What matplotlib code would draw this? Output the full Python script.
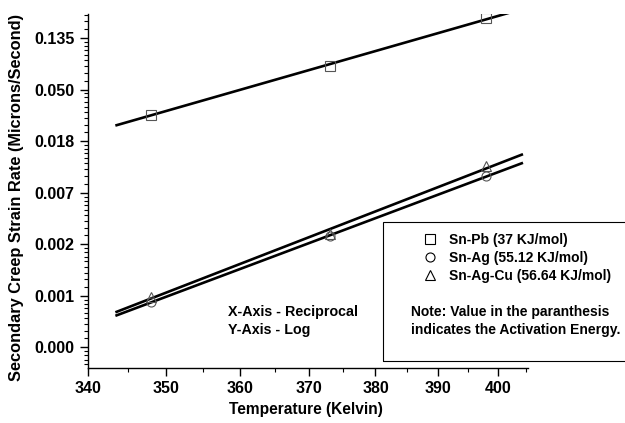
import numpy as np
import matplotlib
matplotlib.use("Agg")
import matplotlib.pyplot as plt
from matplotlib.ticker import FixedLocator, FuncFormatter
from matplotlib.lines import Line2D
from matplotlib.patches import Rectangle

plt.rcParams['font.family'] = ['Liberation Sans', 'DejaVu Sans']
plt.rcParams['font.weight'] = 'bold'

# Data (temperature in Kelvin, creep rate in microns/second)
temps = [348, 373, 398]
sn_pb = [0.0307, 0.0786, 0.198]
sn_ag = [0.000808, 0.00290, 0.00928]
sn_ag_cu = [0.000901, 0.00305, 0.01128]
series_labels = ["Sn-Pb (37 KJ/mol)", "Sn-Ag (55.12 KJ/mol)", "Sn-Ag-Cu (56.64 KJ/mol)"]
markers = ['s', 'o', '^']
x_ticks = [340, 350, 360, 370, 380, 390, 400]
y_tick_exponents = [-8, -7, -6, -5, -4, -3, -2]
fit_range = (343.6, 404.2)

fig = plt.figure(figsize=(6.25, 4.23), dpi=100)
ax = fig.add_axes([88/625, 1-368/423, 440/625, 354/423])

ax.set_xscale('function', functions=(lambda x: -1.0/x, lambda y: -1.0/y))
ax.set_yscale('log', base=np.e)
ax.set_xlim(340, 405.3)
ax.set_ylim(np.exp(-8 - 20.5/51.5), np.exp(-2 + 24/51.5))

T = np.array(temps, dtype=float)
Tline = np.linspace(fit_range[0], fit_range[1], 200)
handles = []
for vals, mk, lab in zip([sn_pb, sn_ag, sn_ag_cu], markers, series_labels):
    v = np.array(vals)
    coef = np.polyfit(1.0/T, np.log(v), 1)
    ax.plot(Tline, np.exp(np.polyval(coef, 1.0/Tline)), color='black', lw=1.9, zorder=2)
    ax.plot(T, v, linestyle='none', marker=mk, markersize=6.5, markerfacecolor='none',
            markeredgecolor='#555555', markeredgewidth=0.8, zorder=3)
    handles.append(Line2D([], [], linestyle='none', marker=mk, markersize=6.5,
                          markerfacecolor='none', markeredgecolor='black', markeredgewidth=0.8,
                          label=lab))

for s in ['top', 'right']:
    ax.spines[s].set_visible(False)
for s in ['left', 'bottom']:
    ax.spines[s].set_linewidth(1.0)

ax.xaxis.set_major_locator(FixedLocator(x_ticks))
ax.xaxis.set_minor_locator(FixedLocator([345, 355, 365, 375, 385, 395, 405]))
ax.xaxis.set_major_formatter(FuncFormatter(lambda v, p: f"{v:.0f}"))
ax.xaxis.set_minor_formatter(FuncFormatter(lambda v, p: ""))

ymaj = [np.exp(e) for e in y_tick_exponents]
ax.yaxis.set_major_locator(FixedLocator(ymaj))
yminor = []
for e in range(-9, -1):
    lo, hi = np.exp(e), np.exp(e + 1)
    for k in range(1, 9):
        yminor.append(lo + k * (hi - lo) / 9)
ax.yaxis.set_minor_locator(FixedLocator(yminor))
ax.yaxis.set_major_formatter(FuncFormatter(lambda v, p: f"{v:.3f}"))
ax.yaxis.set_minor_formatter(FuncFormatter(lambda v, p: ""))

ax.tick_params(axis='both', which='major', direction='out', length=6, width=1.0,
               labelsize=11.5, pad=3.5)
ax.tick_params(axis='both', which='minor', direction='out', length=3, width=0.8)

ax.set_xlabel("Temperature (Kelvin)", fontsize=11.2, fontweight='bold')
ax.set_ylabel("Secondary Creep Strain Rate (Microns/Second)", fontsize=11.8, fontweight='bold')
ax.xaxis.set_label_coords((306 - 88) / 440, -(402 - 368) / 354)
ax.yaxis.set_label_coords(-(88 - 24) / 440, (368 - 197) / 354)

fig.text(228/625, 1-312/423, "X-Axis - Reciprocal", fontsize=10.3, fontweight='bold', va='center')
fig.text(228/625, 1-330/423, "Y-Axis - Log", fontsize=10.3, fontweight='bold', va='center')

# legend box
rect = Rectangle((383/625, 1-361/423), 260/625, 139/423, transform=fig.transFigure,
                 fill=False, edgecolor='black', linewidth=0.8, clip_on=False)
fig.patches.append(rect)

leg = fig.legend(handles=handles, loc='upper left', bbox_to_anchor=(416/625, 1-226/423),
                 frameon=False, prop={'weight': 'bold', 'size': 10},
                 handlelength=1.0, handletextpad=0.9, labelspacing=0.3, borderpad=0.0)

fig.text(411/625, 1-312/423, "Note: Value in the paranthesis", fontsize=10, fontweight='bold', va='center')
fig.text(411/625, 1-330/423, "indicates the Activation Energy.", fontsize=10, fontweight='bold', va='center')

fig.savefig("out.png", dpi=100)
